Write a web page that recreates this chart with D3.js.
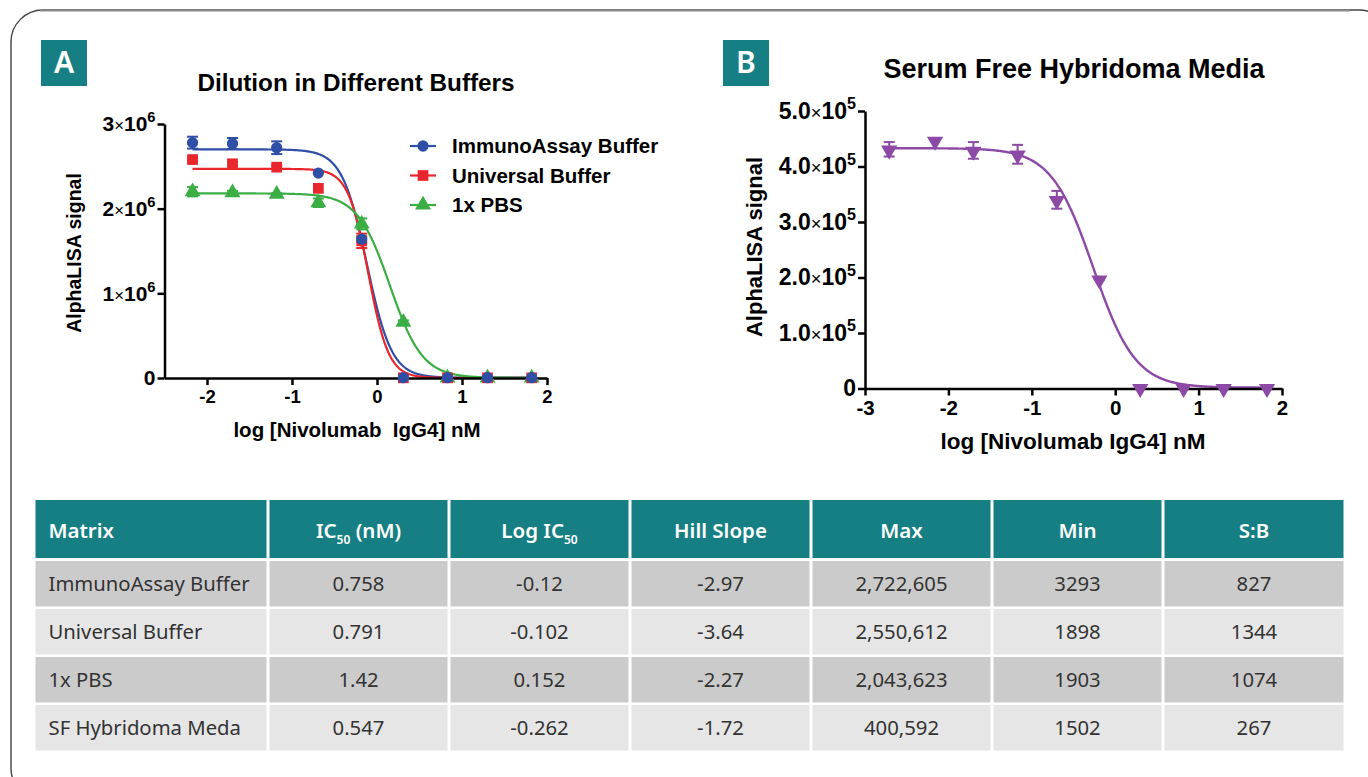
<!DOCTYPE html>
<html>
<head>
<meta charset="utf-8">
<script src="https://cdn.jsdelivr.net/npm/d3@7"></script>
<style>
  html, body { margin: 0; padding: 0; background: #fff; }
  svg { display: block; }
</style>
</head>
<body>
<svg id="chart" width="1368" height="777"></svg>
<script>
// ---------------- DATA ----------------
// Panel A: Dilution in Different Buffers
const logConcA = [-2.17, -1.70, -1.18, -0.69, -0.18, 0.31, 0.83, 1.30, 1.82];
const immunoSignal = [2.78e6, 2.77e6, 2.72e6, 2.42e6, 1.64e6, 3300, 3300, 3300, 3300];
const immunoErr    = [0.07e6, 0.065e6, 0.075e6, 0, 0.03e6, 0, 0, 0, 0];
const universalSignal = [2.58e6, 2.53e6, 2.49e6, 2.24e6, 1.62e6, 1900, 1900, 1900, 1900];
const universalErr    = [0.02e6, 0.02e6, 0.02e6, 0, 0.085e6, 0, 0, 0, 0];
const pbsSignal = [2.20e6, 2.19e6, 2.17e6, 2.07e6, 1.82e6, 0.66e6, 1900, 1900, 1900];
const pbsErr    = [0.055e6, 0.02e6, 0.01e6, 0.05e6, 0.065e6, 0.02e6, 0, 0, 0];
const seriesNamesA = ["ImmunoAssay Buffer", "Universal Buffer", "1x PBS"];
// 4PL fit curve parameters (plateau, IC50/Hill from table)
const fitTopA    = [2.70e6, 2.47e6, 2.18e6];
const fitBottomA = [3293, 1898, 1903];
const fitLogIC50A = [-0.12, -0.102, 0.152];
const fitHillA    = [-2.97, -3.64, -2.27];

// Panel B: Serum Free Hybridoma Media
const logConcB = [-2.71, -2.16, -1.70, -1.17, -0.70, -0.19, 0.30, 0.82, 1.30, 1.82];
const sfSignal = [4.31e5, 4.47e5, 4.29e5, 4.22e5, 3.40e5, 1.97e5, 1500, 1500, 1500, 1500];
const sfErr    = [0.13e5, 0, 0.15e5, 0.17e5, 0.16e5, 0.01e5, 0, 0, 0, 0];
const fitTopB = 4.33e5, fitBottomB = 1502, fitLogIC50B = -0.262, fitHillB = -1.72;

// Axis ticks
const xTicksA = [-2, -1, 0, 1, 2];
const yTicksA = [0, 1e6, 2e6, 3e6];
const yTickLabelsA = ["0", "1×10^6", "2×10^6", "3×10^6"];
const xTicksB = [-3, -2, -1, 0, 1, 2];
const yTicksB = [0, 1e5, 2e5, 3e5, 4e5, 5e5];
const yTickLabelsB = ["0", "1.0×10^5", "2.0×10^5", "3.0×10^5", "4.0×10^5", "5.0×10^5"];

// Table
const tableHeaders = ["Matrix", "IC_50 (nM)", "Log IC_50", "Hill Slope", "Max", "Min", "S:B"];
const tableMatrix = ["ImmunoAssay Buffer", "Universal Buffer", "1x PBS", "SF Hybridoma Meda"];
const tableIC50   = ["0.758", "0.791", "1.42", "0.547"];
const tableLogIC50 = ["-0.12", "-0.102", "0.152", "-0.262"];
const tableHill   = ["-2.97", "-3.64", "-2.27", "-1.72"];
const tableMax    = ["2,722,605", "2,550,612", "2,043,623", "400,592"];
const tableMin    = ["3293", "1898", "1903", "1502"];
const tableSB     = ["827", "1344", "1074", "267"];

// ---------------- STYLE ----------------
const FONT = "Arial, 'Liberation Sans', sans-serif";
const TEAL = "#167f84";
const colorsA = ["#2f4fa6", "#e8262b", "#3aae45"];
const PURPLE = "#8c4aa6";

const svg = d3.select("#chart");

// Outer frame
svg.append("rect").attr("x", 11).attr("y", 10).attr("width", 1380).attr("height", 790)
  .attr("rx", 32).attr("fill", "none").attr("stroke", "#444").attr("stroke-width", 1.4);
svg.append("line").attr("x1", 40).attr("x2", 1350).attr("y1", 10.5).attr("y2", 10.5)
  .attr("stroke", "#8a8a8a").attr("stroke-width", 2);

// Panel badges
function badge(x, y, letter) {
  svg.append("rect").attr("x", x).attr("y", y).attr("width", 46).attr("height", 46).attr("fill", TEAL);
  svg.append("text").attr("x", x + 23).attr("y", y + 33).attr("text-anchor", "middle")
    .attr("font-family", "'Noto Sans', 'Open Sans', sans-serif").attr("font-weight", 600)
    .attr("font-size", 30).attr("fill", "#fff").text(letter);
}
badge(41, 40, "A");
badge(723, 40, "B");

function fourPL(x, top, bottom, logIC50, hill) {
  return bottom + (top - bottom) / (1 + Math.pow(10, (logIC50 - x) * hill));
}

function sciLabel(textSel, label, fs) {
  textSel.text(null);
  const m = label.match(/^([\d.]+)×10\^(\d+)$/);
  if (!m) { textSel.text(label); return; }
  textSel.append("tspan").text(m[1]);
  textSel.append("tspan").attr("font-size", fs * 0.8).attr("font-weight", 400).text("×");
  textSel.append("tspan").text("10");
  textSel.append("tspan").attr("font-size", fs * 0.7).attr("dy", -fs * 0.42).text(m[2]);
}

function styleAxis(g, fs) {
  g.select(".domain").attr("stroke", "#000").attr("stroke-width", 2.5);
  g.selectAll(".tick line").attr("stroke", "#000").attr("stroke-width", 2.5);
  g.selectAll(".tick text").attr("font-family", FONT).attr("font-weight", "bold")
    .attr("font-size", fs).attr("fill", "#000");
}

function errorBars(g, xs, ys, errs, xScale, yScale, color) {
  xs.forEach((x, i) => {
    const e = errs[i];
    if (!e) return;
    const cx = xScale(x), y1 = yScale(ys[i] - e), y2 = yScale(ys[i] + e);
    g.append("line").attr("x1", cx).attr("x2", cx).attr("y1", y1).attr("y2", y2)
      .attr("stroke", color).attr("stroke-width", 2);
    [y1, y2].forEach(yy => g.append("line").attr("x1", cx - 5.5).attr("x2", cx + 5.5)
      .attr("y1", yy).attr("y2", yy).attr("stroke", color).attr("stroke-width", 2));
  });
}

// ---------------- PANEL A ----------------
const xA = d3.scaleLinear().domain([-2.5, 2]).range([164.5, 547]);
const yA = d3.scaleLinear().domain([0, 3e6]).range([378, 124]);
const gA = svg.append("g");

svg.append("text").attr("x", 356).attr("y", 91).attr("text-anchor", "middle")
  .attr("font-family", FONT).attr("font-weight", "bold").attr("font-size", 24.3)
  .text("Dilution in Different Buffers");

const symbolsA = [d3.symbolCircle, d3.symbolSquare, d3.symbolTriangle];
const symSizeA = [100, 115, 110];
const signalsA = [immunoSignal, universalSignal, pbsSignal];
const errsA = [immunoErr, universalErr, pbsErr];

// curves
for (let s = 0; s < 3; s++) {
  const xs = d3.range(logConcA[0], logConcA[logConcA.length - 1] + 0.001, 0.01);
  gA.append("path")
    .attr("d", d3.line().x(d => xA(d)).y(d => yA(fourPL(d, fitTopA[s], fitBottomA[s], fitLogIC50A[s], fitHillA[s])))(xs))
    .attr("fill", "none").attr("stroke", colorsA[s]).attr("stroke-width", 2.2);
}

// axes
const axXA = gA.append("g").attr("transform", "translate(0,378)")
  .call(d3.axisBottom(xA).tickValues(xTicksA).tickSize(7).tickSizeOuter(0).tickPadding(5));
styleAxis(axXA, 18.5);
axXA.selectAll(".tick text").text(d => d < 0 ? "-" + Math.abs(d) : d);
const axYA = gA.append("g").attr("transform", "translate(164.5,0)")
  .call(d3.axisLeft(yA).tickValues(yTicksA).tickSize(7).tickSizeOuter(0).tickPadding(2));
styleAxis(axYA, 21);
axYA.selectAll(".tick text").each(function(d, i) { sciLabel(d3.select(this), yTickLabelsA[i], 21); });

// points
for (let s = 2; s >= 0; s--) {
  errorBars(gA, logConcA, signalsA[s], errsA[s], xA, yA, colorsA[s]);
}
for (let s = 2; s >= 0; s--) {
  gA.selectAll(null).data(logConcA).enter().append("path")
    .attr("d", d3.symbol(symbolsA[s], symSizeA[s]))
    .attr("transform", (d, i) => `translate(${xA(d)},${yA(signalsA[s][i])})`)
    .attr("fill", colorsA[s]);
}

// axis titles
svg.append("text").attr("x", 357).attr("y", 437).attr("text-anchor", "middle")
  .attr("font-family", FONT).attr("font-weight", "bold").attr("font-size", 20.5)
  .style("white-space", "pre").text("log [Nivolumab  IgG4] nM");
svg.append("text").attr("transform", "translate(81,253) rotate(-90)").attr("text-anchor", "middle")
  .attr("font-family", FONT).attr("font-weight", "bold").attr("font-size", 19.5)
  .text("AlphaLISA signal");

// legend
seriesNamesA.forEach((name, s) => {
  const y = 146 + s * 29.5;
  svg.append("line").attr("x1", 410).attr("x2", 436).attr("y1", y).attr("y2", y)
    .attr("stroke", colorsA[s]).attr("stroke-width", 2.2);
  svg.append("path").attr("d", d3.symbol(symbolsA[s], symSizeA[s])())
    .attr("transform", `translate(423,${y})`).attr("fill", colorsA[s]);
  svg.append("text").attr("x", 452).attr("y", y + 7).attr("font-family", FONT)
    .attr("font-weight", "bold").attr("font-size", 20.5).text(name);
});

// ---------------- PANEL B ----------------
const xB = d3.scaleLinear().domain([-3, 2]).range([865, 1282]);
const yB = d3.scaleLinear().domain([0, 5e5]).range([388.5, 111]);
const gB = svg.append("g");

svg.append("text").attr("x", 1074).attr("y", 78).attr("text-anchor", "middle")
  .attr("font-family", FONT).attr("font-weight", "bold").attr("font-size", 27)
  .text("Serum Free Hybridoma Media");

const xsB = d3.range(logConcB[0], logConcB[logConcB.length - 1] + 0.001, 0.01);
gB.append("path")
  .attr("d", d3.line().x(d => xB(d)).y(d => yB(fourPL(d, fitTopB, fitBottomB, fitLogIC50B, fitHillB)))(xsB))
  .attr("fill", "none").attr("stroke", PURPLE).attr("stroke-width", 2.4);

const axXB = gB.append("g").attr("transform", "translate(0,388.5)")
  .call(d3.axisBottom(xB).tickValues(xTicksB).tickSize(7).tickSizeOuter(0).tickPadding(5));
styleAxis(axXB, 20.5);
axXB.selectAll(".tick text").text(d => d < 0 ? "-" + Math.abs(d) : d);
const axYB = gB.append("g").attr("transform", "translate(865,0)")
  .call(d3.axisLeft(yB).tickValues(yTicksB).tickSize(7).tickSizeOuter(0).tickPadding(2));
styleAxis(axYB, 23);
axYB.selectAll(".tick text").each(function(d, i) { sciLabel(d3.select(this), yTickLabelsB[i], 23); });

errorBars(gB, logConcB, sfSignal, sfErr, xB, yB, PURPLE);
gB.selectAll(null).data(logConcB).enter().append("path")
  .attr("d", d3.symbol(d3.symbolTriangle, 115))
  .attr("transform", (d, i) => `translate(${xB(d)},${yB(sfSignal[i]) + 1}) rotate(180)`)
  .attr("fill", PURPLE);

svg.append("text").attr("x", 1073).attr("y", 449).attr("text-anchor", "middle")
  .attr("font-family", FONT).attr("font-weight", "bold").attr("font-size", 22.5)
  .text("log [Nivolumab IgG4] nM");
svg.append("text").attr("transform", "translate(762,247) rotate(-90)").attr("text-anchor", "middle")
  .attr("font-family", FONT).attr("font-weight", "bold").attr("font-size", 22)
  .text("AlphaLISA signal");

// ---------------- TABLE ----------------
const colEdges = [34, 268, 449, 630, 811, 992, 1163, 1345];
const headerY = [500, 558];
const rowTops = [561, 609, 657, 705];
const rowH = 45.5;
const rowFill = ["#cbcbcb", "#e6e6e6", "#cbcbcb", "#e6e6e6"];
const TFONT = "'Noto Sans', 'Open Sans', sans-serif";
const gT = svg.append("g");
const columns = [tableMatrix, tableIC50, tableLogIC50, tableHill, tableMax, tableMin, tableSB];

tableHeaders.forEach((h, c) => {
  const x0 = colEdges[c] + 1.5, x1 = colEdges[c + 1] - 1.5;
  gT.append("rect").attr("x", x0).attr("y", headerY[0]).attr("width", x1 - x0)
    .attr("height", headerY[1] - headerY[0]).attr("fill", TEAL);
  const t = gT.append("text").attr("y", 538).attr("font-family", TFONT)
    .attr("font-weight", 600).attr("font-size", 20.5).attr("fill", "#fff");
  if (c === 0) t.attr("x", x0 + 13).attr("text-anchor", "start");
  else t.attr("x", (x0 + x1) / 2).attr("text-anchor", "middle");
  const parts = h.split("_");
  if (parts.length === 1) t.text(h);
  else {
    const m = parts[1].match(/^(\d+)(.*)$/);
    t.append("tspan").text(parts[0]);
    t.append("tspan").attr("font-size", 12).attr("dy", 6).text(m[1]);
    if (m[2]) t.append("tspan").attr("dy", -6).text(m[2]);
  }
});

tableMatrix.forEach((_, r) => {
  columns.forEach((col, c) => {
    const x0 = colEdges[c] + 1.5, x1 = colEdges[c + 1] - 1.5;
    gT.append("rect").attr("x", x0).attr("y", rowTops[r]).attr("width", x1 - x0)
      .attr("height", rowH).attr("fill", rowFill[r]);
    const t = gT.append("text").attr("y", rowTops[r] + rowH / 2 + 7).attr("font-family", TFONT)
      .attr("font-weight", 400).attr("font-size", 20.3).attr("fill", "#333").text(col[r]);
    if (c === 0) t.attr("x", x0 + 13).attr("text-anchor", "start");
    else t.attr("x", (x0 + x1) / 2).attr("text-anchor", "middle");
  });
});
</script>
</body>
</html>
